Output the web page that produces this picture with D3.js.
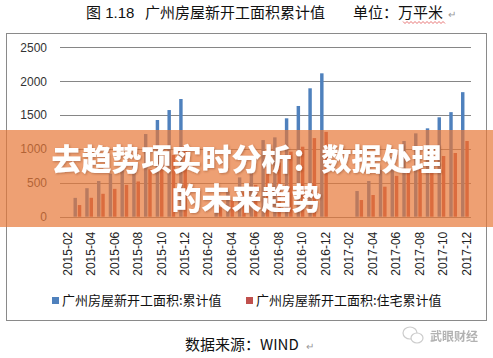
<!DOCTYPE html>
<html><head><meta charset="utf-8">
<script src="https://cdn.jsdelivr.net/npm/d3@7"></script>
<style>
html,body{margin:0;padding:0;background:#fff;}
svg{display:block;font-family:"Liberation Sans","Noto Sans CJK SC",sans-serif;}
</style></head>
<body><div id="chart"></div>
<script>
const categories = [
 "2015-02","2015-03","2015-04","2015-05","2015-06","2015-07","2015-08","2015-09","2015-10","2015-11","2015-12",
 "2016-01","2016-02","2016-03","2016-04","2016-05","2016-06","2016-07","2016-08","2016-09","2016-10","2016-11","2016-12",
 "2017-01","2017-02","2017-03","2017-04","2017-05","2017-06","2017-07","2017-08","2017-09","2017-10","2017-11","2017-12"];
const totalValues = [
 null,278,421,527,635,728,795,1220,1427,1574,1737,
 null,null,230,370,580,680,1131,1171,1452,1634,1895,2116,
 null,null,379,527,690,880,1117,1230,1304,1467,1543,1838];
const residentialValues = [
 null,172,279,338,411,470,520,700,820,910,1050,
 null,null,140,240,360,470,740,800,960,1033,1160,1252,
 null,null,246,320,443,603,690,760,830,896,940,1117];
const seriesNames = ["广州房屋新开工面积:累计值","广州房屋新开工面积:住宅累计值"];
const seriesColors = ["#4F81BD","#C0504D"];
const yTicks = [0,500,1000,1500,2000,2500];
const xTickLabels = categories.filter((d,i)=>i%2===0);
const titleParts = ["图 1.18","广州房屋新开工面积累计值","单位：万平米"];
const sourceText = "数据来源：WIND";
const overlayLines = ["去趋势项实时分析：数据处理","的未来趋势"];
const watermarkText = "武眼财经";

const W=493,H=358;
const svg = d3.select("#chart").append("svg").attr("width",W).attr("height",H);
const defs = svg.append("defs");
defs.append("filter").attr("id","shadow").attr("x","-5%").attr("y","-20%").attr("width","110%").attr("height","140%")
  .append("feDropShadow").attr("dx",1).attr("dy",1).attr("stdDeviation",0.8)
  .attr("flood-color","#6e3214").attr("flood-opacity",0.4);

// title
const tg = svg.append("g").attr("font-family","'Noto Sans CJK SC',sans-serif").attr("font-size",15).attr("fill","#111");
tg.append("text").attr("x",86).attr("y",18).attr("font-family","'Liberation Sans','Noto Sans CJK SC'").text(titleParts[0]);
tg.append("text").attr("x",145).attr("y",18).text(titleParts[1]);
tg.append("text").attr("x",353).attr("y",18).text(titleParts[2]);
tg.append("text").attr("x",448).attr("y",18).attr("font-size",10).attr("fill","#999").text("↵");
// spell-check wavy underline
svg.append("path").attr("d",d3.range(403,447,2).map((xx,i)=>(i?"L":"M")+xx+","+(i%2?23.5:21.5)).join(" "))
  .attr("fill","none").attr("stroke","#e05050").attr("stroke-width",0.8);

// frame
svg.append("rect").attr("x",6.5).attr("y",33.5).attr("width",480).attr("height",287)
  .attr("fill","#fff").attr("stroke","#8a8a8a").attr("stroke-width",1);

// scales
const x = d3.scaleBand().domain(categories).range([60,471]).paddingInner(0).paddingOuter(0);
const y = d3.scaleLinear().domain([0,2500]).range([216.7,47.3]);
const xs = d3.scaleBand().domain([0,1]).range([x.step()*0.15,x.step()*0.81]).paddingInner(0.2);

// gridlines
svg.append("g").selectAll("line").data(yTicks).join("line")
  .attr("x1",60).attr("x2",471)
  .attr("y1",d=>Math.round(y(d))+0.5).attr("y2",d=>Math.round(y(d))+0.5)
  .attr("stroke","#868686").attr("stroke-width",1);

// y axis labels
const ya = svg.append("g").attr("transform","translate(60,0)")
  .call(d3.axisLeft(y).tickValues(yTicks).tickSize(0).tickPadding(13).tickFormat(d3.format("d")));
ya.select(".domain").remove();
ya.selectAll("text").attr("font-size",12).attr("fill","#333").attr("font-family","'Liberation Sans',sans-serif");

// x axis labels
const xa = svg.append("g").attr("transform","translate(0,216.7)")
  .call(d3.axisBottom(x).tickValues(xTickLabels).tickSize(0));
xa.select(".domain").remove();
xa.selectAll("text").attr("x",0).attr("y",0).attr("dy","0.35em")
  .attr("transform","translate(1.5,15) rotate(-90)").style("text-anchor","end")
  .attr("font-size",12).attr("fill","#222").attr("font-family","'Liberation Sans',sans-serif");

// bars
const seriesData = [totalValues,residentialValues];
seriesData.forEach((vals,si)=>{
  svg.append("g").selectAll("rect").data(categories.map((c,i)=>({c,v:vals[i]})).filter(d=>d.v!=null))
    .join("rect")
    .attr("x",d=>x(d.c)+xs(si)).attr("width",xs.bandwidth())
    .attr("y",d=>y(d.v)).attr("height",d=>y(0)-y(d.v))
    .attr("fill",seriesColors[si]);
});

// legend
const lg = svg.append("g").attr("font-size",13).attr("fill","#111").attr("font-family","'Noto Sans CJK SC',sans-serif");
const legX = [52,246];
seriesNames.forEach((n,i)=>{
  lg.append("rect").attr("x",legX[i]).attr("y",297).attr("width",7).attr("height",7).attr("fill",seriesColors[i]);
  lg.append("text").attr("x",legX[i]+10).attr("y",305).text(n);
});

// source
svg.append("text").attr("x",185).attr("y",350).attr("font-size",15).attr("fill","#111")
  .attr("font-family","'Noto Sans CJK SC',sans-serif").text(sourceText);
svg.append("text").attr("x",306).attr("y",350).attr("font-size",10).attr("fill","#999").text("↵");

// watermark
const wm = svg.append("g").attr("opacity",0.75);
wm.append("ellipse").attr("cx",410).attr("cy",333).attr("rx",7).attr("ry",6).attr("fill","#fff").attr("stroke","#bbb").attr("stroke-width",1.2);
wm.append("ellipse").attr("cx",417).attr("cy",338).attr("rx",6).attr("ry",5).attr("fill","#fff").attr("stroke","#bbb").attr("stroke-width",1.2);
wm.append("text").attr("x",430).attr("y",341).attr("font-size",12).attr("font-weight","bold")
  .attr("fill","#999").attr("font-family","'Noto Sans CJK SC',sans-serif").text(watermarkText);

// overlay banner
svg.append("rect").attr("x",0).attr("y",130).attr("width",W).attr("height",97)
  .attr("fill","rgb(231,119,55)").attr("fill-opacity",0.7);
const og = svg.append("g").attr("font-family","'Noto Sans CJK SC',sans-serif")
  .attr("font-size",30).attr("font-weight",900).attr("text-anchor","middle").attr("filter","url(#shadow)");
[[170,0],[209,1]].forEach(([yy,i])=>{
  og.append("text").attr("x",246.5).attr("y",yy).attr("fill","#fff").text(overlayLines[i]);
});
</script></body></html>
